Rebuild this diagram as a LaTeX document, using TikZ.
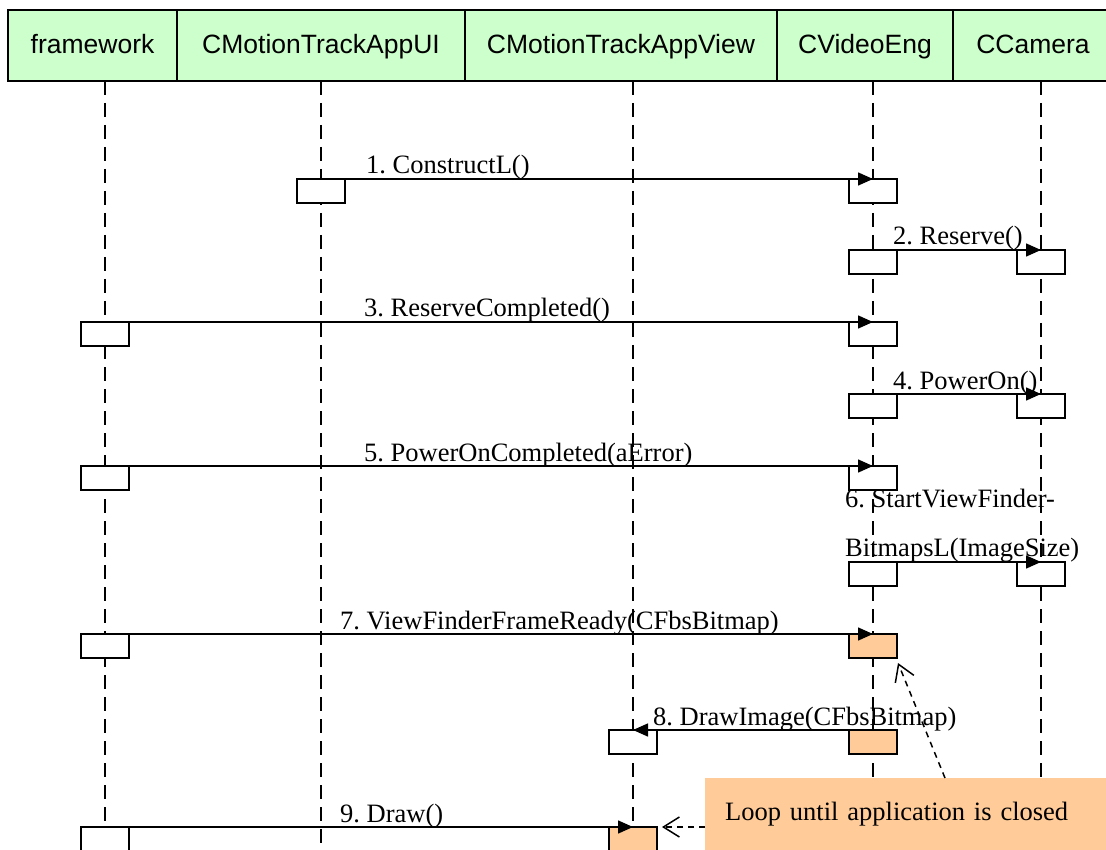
\documentclass[tikz,border=0pt]{standalone}
\usepackage{fontspec}
\setmainfont{Liberation Serif}
\setsansfont{Liberation Sans}
\usepackage{xcolor}
\usepackage{tikz}
\usetikzlibrary{arrows.meta,positioning}
\definecolor{headgreen}{RGB}{204,255,204}
\definecolor{noteorange}{RGB}{255,204,153}

\begin{document}
\frenchspacing
\begin{tikzpicture}[x=1pt,y=-1pt,
  head/.style={draw, fill=headgreen, line width=1.5pt, minimum height=71pt, inner sep=0pt, outer sep=0pt, anchor=north west, text height=19pt, text depth=3pt, font=\sffamily\fontsize{26.5}{31}\selectfont},
  act/.style={draw, fill=white, line width=1.5pt, minimum width=48pt, minimum height=24pt, inner sep=0pt, outer sep=0pt, anchor=north},
  life/.style={line width=1.5pt, dash pattern=on 14pt off 8pt},
  msg/.style={line width=1.5pt, -{Triangle[length=15pt,width=13pt]}},
  loopref/.style={line width=1.5pt, dash pattern=on 6pt off 5pt, -{Straight Barb[length=16pt,width=20pt]}},
  lbl/.style={anchor=base west, inner sep=0pt, font=\fontsize{26.5}{31}\selectfont},
  note/.style={fill=noteorange, anchor=north west, minimum height=72pt, text width=370pt, inner xsep=20pt, inner ysep=0pt, align=left, font=\fontsize{26.5}{31}\selectfont}]
\clip (0,0) rectangle (1106,850);

% Objects
\node[head, minimum width=169pt] (framework) at (8,10) {framework};
\node[head, minimum width=288pt, right=0pt of framework] (appui) {CMotionTrackAppUI};
\node[head, minimum width=312pt, right=0pt of appui] (appview) {CMotionTrackAppView};
\node[head, minimum width=176pt, right=0pt of appview] (videoeng) {CVideoEng};
\node[head, minimum width=160pt, right=0pt of videoeng] (camera) {CCamera};

% Lifelines
\foreach \x in {105,321,633,873,1041}
    \draw[life] (\x,81) -- (\x,850);

% Activations
\foreach \n/\x/\y/\c in {ui1/321/179/white, eng1/873/179/white, eng2/873/250/white, cam2/1041/250/white,
    fw3/105/322/white, eng3/873/322/white, eng4/873/394/white, cam4/1041/394/white,
    fw5/105/466/white, eng5/873/466/white, eng6/873/562/white, cam6/1041/562/white,
    fw7/105/634/white, eng7/873/634/noteorange, eng8/873/730/noteorange, view8/633/730/white,
    fw9/105/827/white, view9/633/827/noteorange}
    \node[act, fill=\c] (\n) at (\x,\y) {};

% Messages
\foreach \a/\b in {ui1/eng1, eng2/cam2, fw3/eng3, eng4/cam4, fw5/eng5, eng6/cam6, fw7/eng7, fw9/view9}
    \draw[msg] (\a.north east) -- (\b.north);
\draw[msg] (eng8.north west) -- (view8.north);

\foreach \n/\x/\y/\txt in {lbl1/366/179/1. ConstructL(), lbl2/893/250/2. Reserve(),
    lbl3/364/322/3. ReserveCompleted(), lbl4/893/394/4. PowerOn(),
    lbl5/364/466/5. PowerOnCompleted(aError), lbl7/340/634/7. ViewFinderFrameReady(CFbsBitmap),
    lbl8/653/730/8. DrawImage(CFbsBitmap), lbl9/340/827/9. Draw()}
    \node[lbl] (\n) at (\x,{\y-5}) {\txt};
\node[lbl, anchor=south west, align=left] (lbl6) at (845,562) {6. StartViewFinder-\\[18pt]BitmapsL(ImageSize)};

% Loop note
\node[note] (loop) at (705,778) {Loop until application is closed};
\draw[loopref] ([xshift=240pt]loop.north west) -- ([xshift=1pt,yshift=-5pt]eng7.south east);
\draw[loopref] (loop.west |- view9.north) -- ([xshift=5pt]view9.north east);
\end{tikzpicture}
\end{document}
